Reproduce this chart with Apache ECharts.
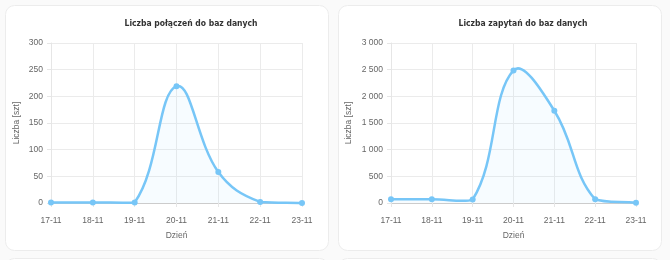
<!DOCTYPE html>
<html><head><meta charset="utf-8">
<script src="https://cdn.jsdelivr.net/npm/echarts@6/dist/echarts.min.js"></script>
<style>html,body{margin:0;padding:0;background:#fafafa;}#c{width:670px;height:260px;}</style>
</head><body><div id="c"></div>
<script>
const categories = ['17-11','18-11','19-11','20-11','21-11','22-11','23-11'];
const connections = [1, 1, 1, 219, 58, 2, 0];
const queries = [70, 70, 65, 2485, 1730, 70, 5];
const yMax = [300, 3000];
const yStep = [50, 500];
const titles = ['Liczba połączeń do baz danych', 'Liczba zapytań do baz danych'];
const yName = 'Liczba [szt]';
const xName = 'Dzień';

const chart = echarts.init(document.getElementById('c'), null, {renderer:'canvas'});
const lineColor = '#77c6f7';
const labelFont = 'Liberation Sans';
function fmt(v){ return String(v).replace(/\B(?=(\d{3})+(?!\d))/g, '\u00a0'); }
function xAxis(i){ return {type:'category', gridIndex:i, data:categories, boundaryGap:false,
  name:xName, nameLocation:'middle', nameGap:28, nameTextStyle:{color:'#666',fontSize:8.5,fontFamily:labelFont},
  axisLine:{lineStyle:{color:'#ccc'}}, axisTick:{show:true,length:4,lineStyle:{color:'#e6e6e6'}},
  axisLabel:{color:'#666',fontSize:8.5,fontFamily:labelFont,margin:13},
  splitLine:{show:true,lineStyle:{color:'#ebebeb'}}}; }
function yAxis(i,gap){ return {type:'value', gridIndex:i, min:0, max:yMax[i], interval:yStep[i],
  name:yName, nameLocation:'middle', nameGap:gap, nameTextStyle:{color:'#666',fontSize:8.5,fontFamily:labelFont},
  axisLine:{show:true,lineStyle:{color:'#e6e6e6'}}, axisTick:{show:true,length:4,lineStyle:{color:'#e6e6e6'}},
  axisLabel:{color:'#666',fontSize:8.5,fontFamily:labelFont,margin:8,formatter:fmt},
  splitLine:{show:true,lineStyle:{color:'#ebebeb'}}}; }

// Chart.js-style spline (tension 0.4, control points capped to plot area) drawn from axis coordinates
function curveSeries(i, values){
  return {type:'custom', xAxisIndex:i, yAxisIndex:i, data:values.map((v,k)=>[k,v]), z:2,
    renderItem:function(params, api){
      if (params.dataIndex !== 0) return null;
      const pts = values.map((v,k)=>api.coord([k,v]));
      const n = pts.length, t = 0.4;
      const yTop = api.coord([0, yMax[i]])[1], yBot = api.coord([0, 0])[1];
      const xL = api.coord([0,0])[0], xR = api.coord([n-1,0])[0];
      const cap = (p)=>[Math.min(Math.max(p[0],xL),xR), Math.min(Math.max(p[1],yTop),yBot)];
      const cps = pts.map((p,k)=>{
        const prev = pts[Math.max(k-1,0)], next = pts[Math.min(k+1,n-1)];
        const d01 = Math.hypot(p[0]-prev[0], p[1]-prev[1]);
        const d12 = Math.hypot(next[0]-p[0], next[1]-p[1]);
        let s01 = d01/(d01+d12), s12 = d12/(d01+d12);
        if (isNaN(s01)) s01 = 0; if (isNaN(s12)) s12 = 0;
        const fa = t*s01, fb = t*s12;
        return {prev:cap([p[0]-fa*(next[0]-prev[0]), p[1]-fa*(next[1]-prev[1])]),
                next:cap([p[0]+fb*(next[0]-prev[0]), p[1]+fb*(next[1]-prev[1])])};
      });
      let d = 'M'+pts[0][0]+' '+pts[0][1];
      for (let k=1;k<n;k++){
        const a = cps[k-1].next, b = cps[k].prev;
        d += ' C'+a[0]+' '+a[1]+' '+b[0]+' '+b[1]+' '+pts[k][0]+' '+pts[k][1];
      }
      const base0 = api.coord([0,0]), baseN = api.coord([n-1,0]);
      const area = d + ' L'+baseN[0]+' '+baseN[1]+' L'+base0[0]+' '+base0[1]+' Z';
      return {type:'group', children:[
        {type:'path', shape:{pathData:area}, style:{fill:'rgba(119,198,247,0.06)', stroke:null}},
        {type:'path', shape:{pathData:d}, style:{fill:null, stroke:lineColor, lineWidth:2.5}}
      ]};
    }};
}
function pointSeries(i, values){ return {type:'line', xAxisIndex:i, yAxisIndex:i, data:values, z:3,
  symbol:'circle', symbolSize:6, itemStyle:{color:lineColor}, lineStyle:{width:0, opacity:0}}; }

const titleStyle = {fontSize:8.5,fontWeight:'bold',color:'#333',fontFamily:'"DejaVu Sans Condensed", "DejaVu Sans"'};
chart.setOption({
  animation:false,
  graphic:[
    {type:'rect',shape:{x:5.5,y:5.5,width:323,height:245,r:9},style:{fill:'#fff',stroke:'#ececec',lineWidth:1},z:-10},
    {type:'rect',shape:{x:338.5,y:5.5,width:323,height:245,r:9},style:{fill:'#fff',stroke:'#ececec',lineWidth:1},z:-10},
    {type:'rect',shape:{x:5.5,y:258.5,width:323,height:40,r:9},style:{fill:'#fff',stroke:'#ececec',lineWidth:1},z:-10},
    {type:'rect',shape:{x:338.5,y:258.5,width:323,height:40,r:9},style:{fill:'#fff',stroke:'#ececec',lineWidth:1},z:-10}
  ],
  title:[
    {text:titles[0], left:186, top:14, textAlign:'center', textStyle:titleStyle},
    {text:titles[1], left:518, top:14, textAlign:'center', textStyle:titleStyle}
  ],
  grid:[
    {left:51, top:43, width:251, height:160},
    {left:391, top:43, width:245, height:160}
  ],
  xAxis:[xAxis(0), xAxis(1)],
  yAxis:[yAxis(0,30), yAxis(1,38)],
  series:[curveSeries(0,connections), pointSeries(0,connections), curveSeries(1,queries), pointSeries(1,queries)]
});
</script></body></html>
